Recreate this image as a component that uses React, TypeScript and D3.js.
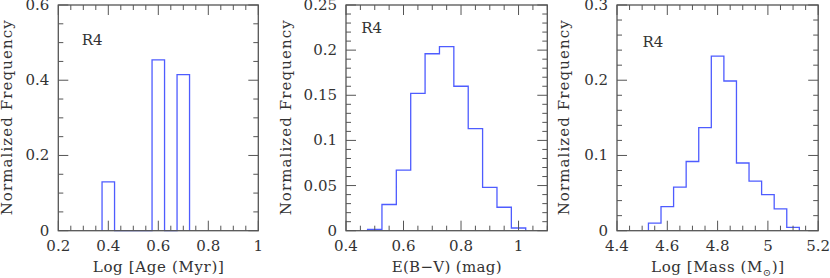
import React from "react";
import * as d3 from "d3";

// bin centres (width 0.05) and normalized frequencies
const ageBins = [0.4, 0.45, 0.5, 0.55, 0.6, 0.65, 0.7];
const ageFreq = [0.13, 0, 0, 0, 0.454, 0, 0.415];

const ebvBins = [0.5, 0.55, 0.6, 0.65, 0.7, 0.75, 0.8, 0.85, 0.9, 0.95, 1.0];
const ebvFreq = [0.0015, 0.029, 0.067, 0.152, 0.196, 0.204, 0.16, 0.113, 0.048, 0.026, 0.003];

const massBins = [4.55, 4.6, 4.65, 4.7, 4.75, 4.8, 4.85, 4.9, 4.95, 5.0, 5.05, 5.1];
const massFreq = [0.01, 0.032, 0.058, 0.092, 0.137, 0.232, 0.199, 0.09, 0.066, 0.048, 0.029, 0.0045];

const BIN_WIDTH = 0.05;
const LABEL = "R4";
const Y_TITLE = "Normalized Frequency";

const FONT = "'DejaVu Serif', serif";
const BLUE = "#4e5cff";
const AXIS = "#555";
const TEXT = "#333";

const TOP = 5;
const BOTTOM = 230.7;

type PanelProps = {
  left: number;
  right: number;
  xDomain: [number, number];
  yDomain: [number, number];
  xMinor: number;
  xMajor: number;
  yMinor: number;
  yMajor: number;
  bins: number[];
  freq: number[];
  xTitle: React.ReactNode;
  xTitleLen: number;
  yTitleOffset: number;
  labelDx: number;
  labelY: number;
};

const stepsOf = (lo: number, hi: number, step: number) =>
  d3.range(Math.round(lo / step), Math.round(hi / step) + 1).map((i) => +(i * step).toFixed(6));

const isMajor = (v: number, major: number) => Math.abs(v / major - Math.round(v / major)) < 1e-6;

const fmt = (v: number) => String(+v.toFixed(3));

const Panel = (p: PanelProps) => {
  const x = d3.scaleLinear().domain(p.xDomain).range([p.left, p.right]);
  const y = d3.scaleLinear().domain(p.yDomain).range([BOTTOM, TOP]);

  // step outline of the histogram
  const pts: [number, number][] = [];
  p.bins.forEach((c, i) => {
    const x0 = c - BIN_WIDTH / 2;
    const x1 = c + BIN_WIDTH / 2;
    if (i === 0) pts.push([x0, 0]);
    pts.push([x0, p.freq[i]]);
    pts.push([x1, p.freq[i]]);
    if (i === p.bins.length - 1) pts.push([x1, 0]);
  });
  const path = d3
    .line<[number, number]>()
    .x((d) => x(d[0]))
    .y((d) => y(d[1]))(pts);

  const xTicks = stepsOf(p.xDomain[0], p.xDomain[1], p.xMinor);
  const yTicks = stepsOf(p.yDomain[0], p.yDomain[1], p.yMinor);
  const midY = (TOP + BOTTOM) / 2;

  return (
    <g>
      <path d={path ?? ""} fill="none" stroke={BLUE} strokeWidth={1.3} />
      {xTicks.map((v) => {
        const len = isMajor(v, p.xMajor) ? 10 : 5;
        return (
          <g key={"x" + v} stroke={AXIS} strokeWidth={1}>
            <line x1={x(v)} x2={x(v)} y1={BOTTOM} y2={BOTTOM - len} />
            <line x1={x(v)} x2={x(v)} y1={TOP} y2={TOP + len} />
          </g>
        );
      })}
      {yTicks.map((v) => {
        const len = isMajor(v, p.yMajor) ? 10 : 5;
        return (
          <g key={"y" + v} stroke={AXIS} strokeWidth={1}>
            <line x1={p.left} x2={p.left + len} y1={y(v)} y2={y(v)} />
            <line x1={p.right} x2={p.right - len} y1={y(v)} y2={y(v)} />
          </g>
        );
      })}
      <rect
        x={p.left}
        y={TOP}
        width={p.right - p.left}
        height={BOTTOM - TOP}
        fill="none"
        stroke={AXIS}
        strokeWidth={1.3}
      />
      <g fontFamily={FONT} fontSize={15} fill={TEXT}>
        {xTicks
          .filter((v) => isMajor(v, p.xMajor))
          .map((v) => (
            <text key={"xl" + v} x={x(v)} y={251} textAnchor="middle">
              {fmt(v)}
            </text>
          ))}
        {yTicks
          .filter((v) => isMajor(v, p.yMajor))
          .map((v) => (
            <text key={"yl" + v} x={p.left - 9} y={y(v)} textAnchor="end" dominantBaseline="central">
              {fmt(v)}
            </text>
          ))}
        <text x={p.left + p.labelDx} y={p.labelY}>
          {LABEL}
        </text>
        <text
          x={(p.left + p.right) / 2}
          y={272}
          textAnchor="middle"
          textLength={p.xTitleLen}
          lengthAdjust="spacing"
        >
          {p.xTitle}
        </text>
        <text
          transform={`translate(${p.left - p.yTitleOffset},${midY}) rotate(-90)`}
          textAnchor="middle"
          dominantBaseline="central"
          textLength={195}
          lengthAdjust="spacing"
        >
          {Y_TITLE}
        </text>
      </g>
    </g>
  );
};

export default function App() {
  return (
    <svg width={830} height={278} style={{ position: "absolute", left: 0, top: 0, background: "#fff" }}>
      <Panel
        left={58.3}
        right={258.3}
        xDomain={[0.2, 1]}
        yDomain={[0, 0.6]}
        xMinor={0.05}
        xMajor={0.2}
        yMinor={0.05}
        yMajor={0.2}
        bins={ageBins}
        freq={ageFreq}
        xTitle="Log [Age (Myr)]"
        xTitleLen={131}
        yTitleOffset={51.6}
        labelDx={23.4}
        labelY={45}
      />
      <Panel
        left={346}
        right={547.3}
        xDomain={[0.4, 1.1]}
        yDomain={[0, 0.25]}
        xMinor={0.05}
        xMajor={0.2}
        yMinor={0.01}
        yMajor={0.05}
        bins={ebvBins}
        freq={ebvFreq}
        xTitle="E(B−V) (mag)"
        xTitleLen={110}
        yTitleOffset={60}
        labelDx={15.3}
        labelY={33.3}
      />
      <Panel
        left={617}
        right={818.2}
        xDomain={[4.4, 5.2]}
        yDomain={[0, 0.3]}
        xMinor={0.05}
        xMajor={0.2}
        yMinor={0.02}
        yMajor={0.1}
        bins={massBins}
        freq={massFreq}
        xTitle={
          <>
            {"Log [Mass (M"}
            <tspan fontSize={10} dy={4}>
              ⊙
            </tspan>
            <tspan dy={-4}>{")]"}</tspan>
          </>
        }
        xTitleLen={133}
        yTitleOffset={53}
        labelDx={25.5}
        labelY={46.7}
      />
    </svg>
  );
}
